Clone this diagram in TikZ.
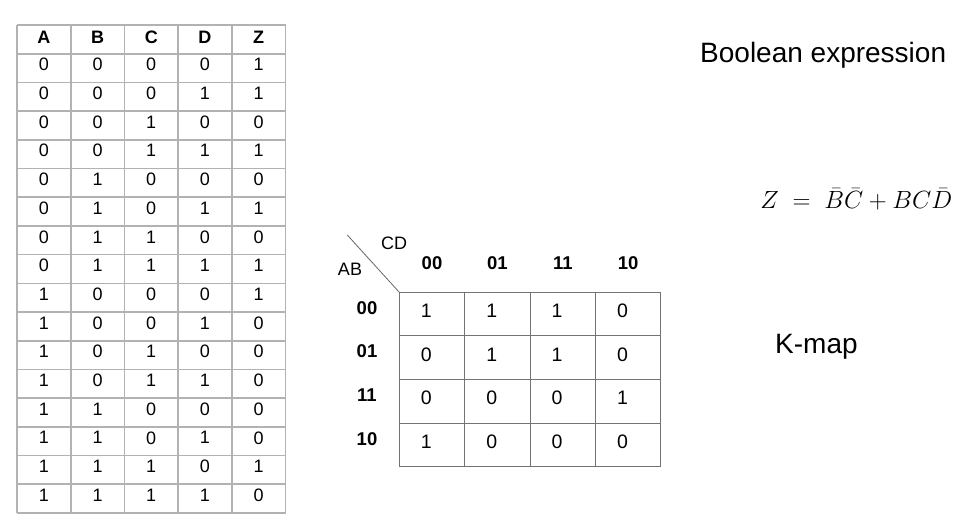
\documentclass[tikz,border=0pt]{standalone}
\usepackage{fontspec}
\setmainfont{Liberation Sans}
\tikzset{ %table and map looks
  {table line/.style} ={draw=black!30, line width=1.6pt},
  {map line/.style} ={draw=black!55, line width=1.1pt},
  {entry/.style} ={inner sep=0, font=\fontsize{18}{20}\selectfont},
  {head entry/.style} ={entry, font=\fontsize{18}{20}\selectfont\bfseries},
  {map entry/.style} ={inner sep=0, font=\fontsize{19.5}{22}\selectfont},
  {map label/.style} ={inner sep=0, font=\fontsize{18.5}{20}\selectfont\bfseries},
  {caption/.style} ={inner sep=0, anchor=base west, font=\fontsize{28}{32}\selectfont},
}

\begin{document}
\begin{tikzpicture}[x=1pt,y=-1pt]
\useasboundingbox (0,0) rectangle (980,525);
% truth table
\foreach \i in {0,...,17}
  \draw[table line] (17,25+28.7*\i) -- (285.5,25+28.7*\i);
\foreach \i in {0,...,5}
  \draw[table line] (17+53.7*\i,25) -- (17+53.7*\i,513);
\foreach \h [count=\c] in {A,B,C,D,Z}
  \node[head entry] (tt-0-\c) at (17+53.7*\c-26.85,37) {\h};
\foreach \row [count=\r] in {{0,0,0,0,1},{0,0,0,1,1},{0,0,1,0,0},{0,0,1,1,1},
    {0,1,0,0,0},{0,1,0,1,1},{0,1,1,0,0},{0,1,1,1,1},
    {1,0,0,0,1},{1,0,0,1,0},{1,0,1,0,0},{1,0,1,1,0},
    {1,1,0,0,0},{1,1,0,1,0},{1,1,1,0,1},{1,1,1,1,0}}
  \foreach \v [count=\c] in \row
    \node[entry] (tt-\r-\c) at (17+53.7*\c-26.85,25+28.7*\r+11) {\v};
% k-map
\foreach \i in {0,...,4}
  \draw[map line] (399.3,292.3+43.6*\i) -- (661,292.3+43.6*\i);
\foreach \i in {0,...,4}
  \draw[map line] (399.3+65.4*\i,292.3) -- (399.3+65.4*\i,466.7);
\coordinate (corner) at (399.3,292.3);
\coordinate (slash) at (347.3,235);
\draw[black!60, line width=0.8pt] (slash) -- (corner);
\node[entry] (cd) at (394,243) {CD};
\node[entry] (ab) at (350,269) {AB};
\foreach \g [count=\c] in {00,01,11,10} {
  \node[map label] (col-\c) at (399.3+65.4*\c-32.7,263) {\g};
  \node[map label] (row-\c) at (367,308+43.6*\c-43.6) {\g};
}
\foreach \row [count=\r] in {{1,1,1,0},{0,1,1,0},{0,0,0,1},{1,0,0,0}}
  \foreach \v [count=\c] in \row
    \node[map entry] (km-\r-\c) at (399.3+65.4*\c-38.4,292.3+43.6*\r-25.2) {\v};
% right side texts
\node[caption] (boolean) at (700,62.7) {Boolean expression};
\node[inner sep=0, anchor=base east, font=\fontsize{24}{28}\selectfont] (expr)
  at (952.5,208.3) {$Z\;=\;\bar{B}\bar{C}+BC\bar{D}$};
\node[caption] (kmap) at (775,353.3) {K-map};
\end{tikzpicture}
\end{document}
